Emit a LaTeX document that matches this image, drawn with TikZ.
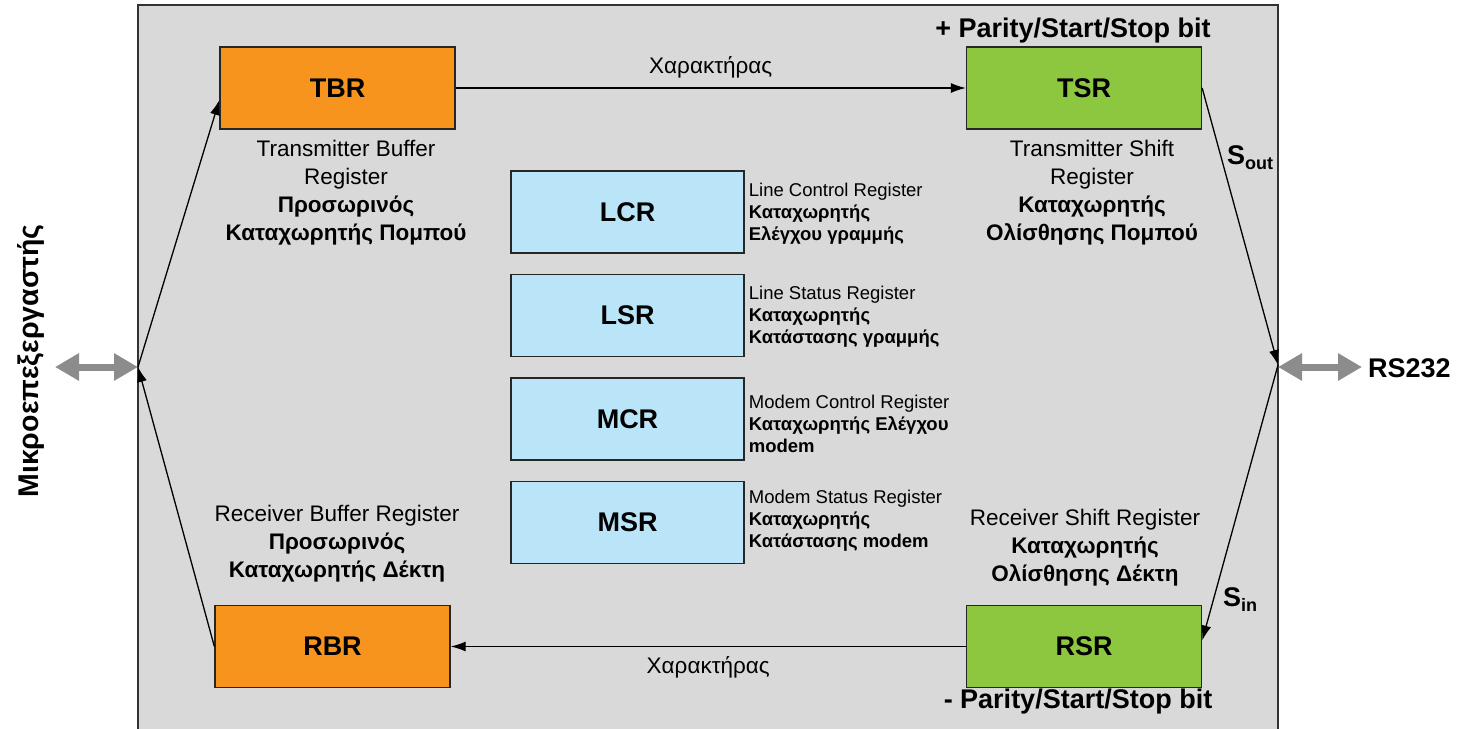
\documentclass[tikz,border=0pt]{standalone}
\usepackage{fontspec}
\setmainfont{Liberation Sans}
\usetikzlibrary{arrows.meta,positioning}
\definecolor{panelgray}{RGB}{217,217,217}
\definecolor{regorange}{RGB}{247,148,30}
\definecolor{reggreen}{RGB}{141,198,63}
\definecolor{regblue}{RGB}{186,228,248}
\definecolor{portgray}{RGB}{140,140,140}

\begin{document}
\begin{tikzpicture}[x=1pt,y=-1pt]
\tikzstyle{reg}=[draw=black!85,line width=1.3pt,minimum width=235pt,minimum height=82pt,font=\fontsize{27}{30}\selectfont\bfseries];
\tikzstyle{bufreg}=[reg,fill=regorange];
\tikzstyle{shiftreg}=[reg,fill=reggreen];
\tikzstyle{ctrlreg}=[reg,fill=regblue,minimum width=233pt];
\tikzstyle{regcap}=[align=center,inner sep=0pt,font=\fontsize{22.5}{28}\selectfont];
\tikzstyle{smallcap}=[align=left,inner sep=0pt,anchor=north west,font=\fontsize{18.5}{22}\selectfont];
\tikzstyle{bigtxt}=[inner sep=0pt,font=\fontsize{27}{30}\selectfont\bfseries];
\tikzstyle{link}=[line width=1.3pt,-{Latex[length=15pt,width=10pt]}];
\tikzstyle{port}=[portgray,line width=7pt,{Triangle[length=24pt,width=26pt]}-{Triangle[length=24pt,width=26pt]}];

\clip (0,0) rectangle (1458,728);
\draw[fill=panelgray,draw=black!80,line width=1.2pt] (138,5) rectangle (1278,745);

% transmit / receive registers
\node[bufreg] (tbr) at (337.5,88) {TBR};
\node[shiftreg] (tsr) at (1084,88) {TSR};
\node[bufreg] (rbr) at (332.5,646.5) {RBR};
\node[shiftreg] (rsr) at (1084,646.5) {RSR};

% control / status registers
\node[ctrlreg] (lcr) at (627.5,212) {LCR};
\node[ctrlreg] (lsr) at (627.5,315.5) {LSR};
\node[ctrlreg] (mcr) at (627.5,419) {MCR};
\node[ctrlreg] (msr) at (627.5,522.5) {MSR};

\node[regcap,anchor=north] (tbrcap) at (346,140) {Transmitter Buffer\\Register\\\textbf{Προσωρινός}\\\textbf{Καταχωρητής Πομπού}};
\node[regcap,anchor=north] (tsrcap) at (1092,140) {Transmitter Shift\\Register\\\textbf{Καταχωρητής}\\\textbf{Ολίσθησης Πομπού}};
\node[regcap,anchor=north] (rbrcap) at (337,505) {Receiver Buffer Register\\\textbf{Προσωρινός}\\\textbf{Καταχωρητής Δέκτη}};
\node[regcap,anchor=north] (rsrcap) at (1085,509) {Receiver Shift Register\\\textbf{Καταχωρητής}\\\textbf{Ολίσθησης Δέκτη}};

\node[smallcap] (lcrcap) at ([xshift=4pt,yshift=-13pt]lcr.north east) {Line Control Register\\\textbf{Καταχωρητής}\\\textbf{Ελέγχου γραμμής}};
\node[smallcap] (lsrcap) at ([xshift=4pt,yshift=-12pt]lsr.north east) {Line Status Register\\\textbf{Καταχωρητής}\\\textbf{Κατάστασης γραμμής}};
\node[smallcap] (mcrcap) at ([xshift=4pt,yshift=-18pt]mcr.north east) {Modem Control Register\\\textbf{Καταχωρητής Ελέγχου}\\\textbf{modem}};
\node[smallcap] (msrcap) at ([xshift=4pt,yshift=-9pt]msr.north east) {Modem Status Register\\\textbf{Καταχωρητής}\\\textbf{Κατάστασης modem}};

% parity bits
\node[bigtxt] (addbits) at (1073,31) {+ Parity/Start/Stop bit};
\node[bigtxt] (dropbits) at (1078,702) {- Parity/Start/Stop bit};

% junction points on the panel border
\coordinate (jl) at (138,367);
\coordinate (jr) at (1278,365);

\draw[link] (tbr) -- node[regcap,above=9pt] (chartop) {Χαρακτήρας} (tsr);
\draw[link] (rsr) -- node[regcap,below=9pt] (charbot) {Χαρακτήρας} (rbr);
\draw[link] (jl) -- ([yshift=-12pt]tbr.west);
\draw[link] (rbr.west) -- (jl);
\draw[link] (tsr.east) -- (jr);
\draw[link] (jr) -- ([yshift=6pt]rsr.east);

\node[bigtxt] (sout) at (1250,158) {S\raisebox{-5pt}{\fontsize{18}{20}\selectfont out}};
\node[bigtxt] (sin) at (1240,600) {S\raisebox{-5pt}{\fontsize{18}{20}\selectfont in}};

% external links
\coordinate (cpu) at (55,367);
\coordinate (rs) at (1362,367);
\draw[port] (cpu) -- (jl |- cpu);
\draw[port] (jr |- rs) -- (rs);
\node[bigtxt,rotate=90,font=\fontsize{28.5}{30}\selectfont\bfseries] (cpulbl) at (31,361) {Μικροεπεξεργαστής};
\node[bigtxt,anchor=west] (rslbl) at (1368,368) {RS232};
\end{tikzpicture}
\end{document}
